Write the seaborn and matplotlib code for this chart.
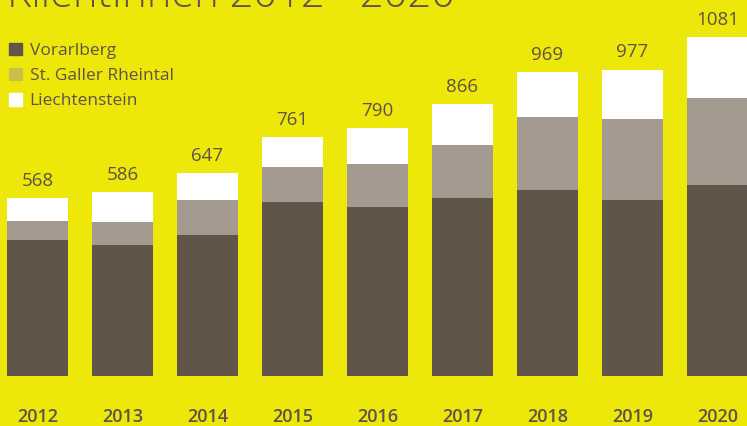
import pandas as pd
import seaborn as sns
import matplotlib.pyplot as plt
from matplotlib.patches import Patch

years = ["2012", "2013", "2014", "2015", "2016", "2017", "2018", "2019", "2020"]
vorarlberg = [434, 418, 450, 556, 540, 569, 594, 562, 610]
st_galler = [61, 73, 112, 109, 137, 169, 233, 259, 275]
liechtenstein = [73, 95, 85, 96, 113, 128, 142, 156, 196]
totals = [568, 586, 647, 761, 790, 866, 969, 977, 1081]

BG = "#ede80a"
DARK = "#615448"
GREY = "#a59a90"
TEXT = "#5f5249"

df = pd.DataFrame({
    "Jahr": years,
    "Vorarlberg": vorarlberg,
    "St. Galler Rheintal": st_galler,
    "Liechtenstein": liechtenstein,
    "Total": totals,
})
df["Stack2"] = df["Vorarlberg"] + df["St. Galler Rheintal"]
df["Stack3"] = df["Stack2"] + df["Liechtenstein"]

sns.set_theme(style="white")
plt.rcParams["font.family"] = ["Open Sans", "DejaVu Sans"]

fig = plt.figure(figsize=(7.47, 4.26), dpi=100, facecolor=BG)
ax = fig.add_axes([0, 50 / 426, 1, 376 / 426])
ax.set_facecolor(BG)

# stacked bars by overlapping cumulative sums
for col, c in [("Stack3", "white"), ("Stack2", GREY), ("Vorarlberg", DARK)]:
    sns.barplot(data=df, x="Jahr", y=col, color=c, width=0.72, saturation=1,
                linewidth=0, edgecolor="none", ax=ax, order=years)

ax.set_xlim(-0.441, 8.347)
ax.set_ylim(0, 1199)
for s in ax.spines.values():
    s.set_visible(False)
ax.set_yticks([])
ax.set_xlabel("")
ax.set_ylabel("")
ax.tick_params(axis="x", length=0, pad=23, labelsize=13, labelcolor=TEXT)
for lbl in ax.get_xticklabels():
    lbl.set_fontweight("semibold")

for i, t in enumerate(df["Stack3"]):
    ax.text(i, t + 26, str(df["Total"][i]), ha="center", va="bottom",
            fontsize=13.5, color=TEXT, fontweight="normal")

# title, cut off at the top like in the original
fig.text(0.01, 1 - 7 / 426, "KlientInnen 2012 - 2020", ha="left", va="baseline",
         fontsize=30, color=TEXT, fontweight="light")

handles = [Patch(color=DARK), Patch(color="#c9c04a"), Patch(color="white")]
leg = ax.legend(handles, ["Vorarlberg", "St. Galler Rheintal", "Liechtenstein"],
                loc="upper left", bbox_to_anchor=(0.0, 1 - 34 / 376), frameon=False,
                handlelength=0.75, handleheight=0.75, handletextpad=0.45,
                labelspacing=0.5, fontsize=12.5, borderaxespad=0.5, borderpad=0)
for t in leg.get_texts():
    t.set_color(TEXT)

fig.savefig("out.png", dpi=100, facecolor=BG)
